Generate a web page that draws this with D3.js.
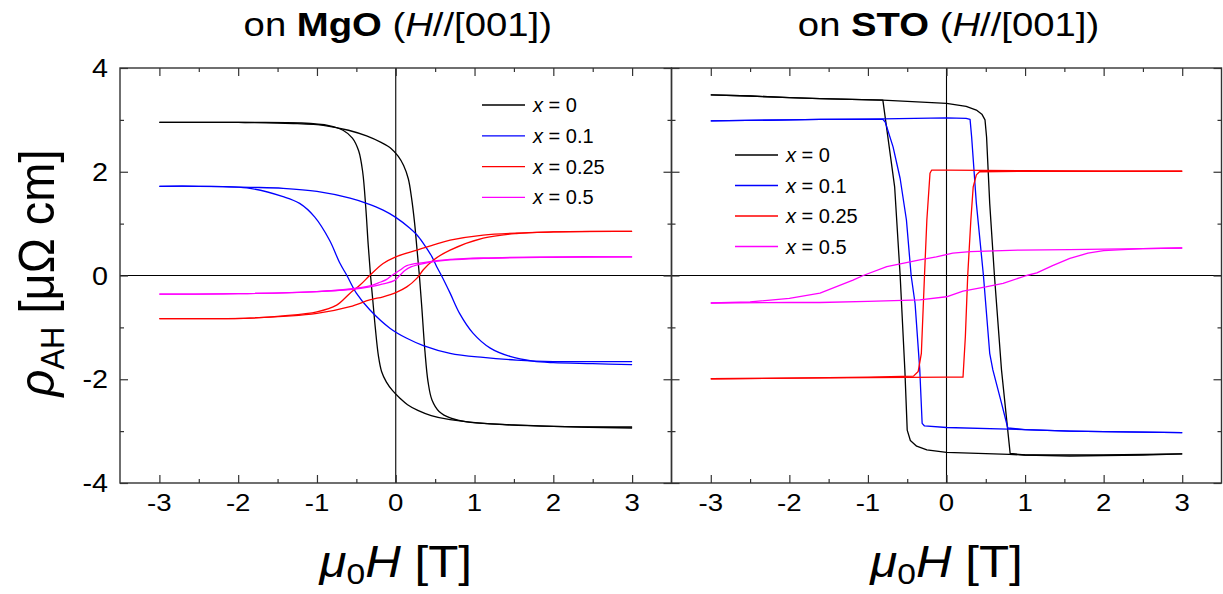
<!DOCTYPE html>
<html><head><meta charset="utf-8">
<script src="https://cdn.jsdelivr.net/npm/d3@7"></script>
<style>
body{margin:0;background:#fff}
svg{display:block}
text{font-family:Arial,"Liberation Sans",sans-serif;fill:#000}
</style>
</head><body>
<svg id="c" width="1223" height="594"></svg>
<script>
// ---------- data ----------
const xTickValues = [-3, -2, -1, 0, 1, 2, 3];
const xMinorValues = [-2.5, -1.5, -0.5, 0.5, 1.5, 2.5];
const yTickValues = [-4, -2, 0, 2, 4];
const yMinorValues = [-3, -1, 1, 3];
const seriesLabels = ["0", "0.1", "0.25", "0.5"];
const seriesColors = ["#000000", "#0000ff", "#ff0000", "#ff00ff"];
const panelTitles = ["MgO", "STO"];

// Each loop: ascending branch (-3 -> 3) followed by descending branch (3 -> -3)
const mgoX0 = [[-3,2.95],[-2,2.95],[-1.3,2.93],[-0.9,2.89],[-0.6,2.80],[-0.37,2.69],[-0.18,2.56],[-0.06,2.45],[0.03,2.30],[0.10,2.12],[0.16,1.86],[0.20,1.5],[0.24,1.0],[0.27,0.5],[0.30,0],[0.33,-0.6],[0.37,-1.45],[0.41,-2.05],[0.46,-2.40],[0.55,-2.62],[0.70,-2.75],[0.95,-2.83],[1.5,-2.88],[2,-2.91],[3,-2.94],
  [3,-2.92],[2,-2.91],[1.2,-2.86],[0.69,-2.78],[0.45,-2.70],[0.28,-2.60],[0.15,-2.49],[0.05,-2.36],[-0.04,-2.22],[-0.12,-2.05],[-0.18,-1.85],[-0.22,-1.55],[-0.26,-1.0],[-0.29,-0.5],[-0.32,0],[-0.35,0.6],[-0.38,1.3],[-0.42,2.0],[-0.47,2.40],[-0.55,2.65],[-0.67,2.80],[-0.85,2.89],[-1.2,2.94],[-2,2.95],[-3,2.95]];
const mgoX01 = [[-3,1.72],[-2.5,1.72],[-1.85,1.70],[-1.43,1.68],[-1.0,1.62],[-0.58,1.49],[-0.37,1.39],[-0.16,1.26],[0,1.12],[0.18,0.91],[0.27,0.78],[0.35,0.62],[0.46,0.36],[0.52,0.17],[0.58,0],[0.69,-0.34],[0.81,-0.73],[0.98,-1.11],[1.20,-1.40],[1.45,-1.56],[1.74,-1.65],[2.0,-1.68],[2.5,-1.70],[3,-1.72],
  [3,-1.66],[2.5,-1.66],[2.0,-1.66],[1.53,-1.63],[1.11,-1.58],[0.69,-1.50],[0.35,-1.35],[0.14,-1.21],[-0.07,-1.02],[-0.33,-0.66],[-0.50,-0.34],[-0.62,0],[-0.71,0.24],[-0.84,0.68],[-1.03,1.13],[-1.22,1.39],[-1.43,1.52],[-1.85,1.68],[-2.5,1.72],[-3,1.72]];
const mgoX025 = [[-3,-0.83],[-2.5,-0.83],[-1.85,-0.82],[-1.0,-0.73],[-0.58,-0.60],[-0.33,-0.47],[-0.16,-0.41],[0,-0.33],[0.14,-0.22],[0.27,-0.05],[0.35,0.11],[0.48,0.30],[0.69,0.49],[1.11,0.72],[1.53,0.81],[2,0.84],[2.5,0.85],[3,0.85],
  [3,0.85],[2,0.84],[1.11,0.78],[0.69,0.68],[0.48,0.59],[0.27,0.49],[0,0.36],[-0.16,0.23],[-0.33,0],[-0.45,-0.18],[-0.58,-0.34],[-0.75,-0.57],[-1.0,-0.70],[-1.43,-0.78],[-1.85,-0.82],[-3,-0.83]];
const mgoX05 = [[-3,-0.36],[-2,-0.35],[-1,-0.31],[-0.58,-0.27],[-0.33,-0.22],[-0.16,-0.16],[-0.02,-0.10],[0.05,0],[0.12,0.10],[0.2,0.17],[0.35,0.23],[0.69,0.30],[1.11,0.33],[2,0.35],[3,0.36],
  [3,0.36],[2,0.36],[1.11,0.34],[0.69,0.31],[0.35,0.25],[0.14,0.19],[0.05,0.10],[-0.05,0],[-0.12,-0.08],[-0.2,-0.13],[-0.33,-0.2],[-0.58,-0.26],[-1,-0.31],[-2,-0.35],[-3,-0.36]];

const stoX0 = [[-3,3.48],[-2.5,3.46],[-2,3.43],[-1.61,3.41],[-0.81,3.38],[0,3.32],[0.25,3.26],[0.38,3.19],[0.45,3.11],[0.49,3.0],[0.51,2.67],[0.55,1.39],[0.61,0],[0.70,-1.82],[0.81,-3.43],[1.0,-3.46],[1.57,-3.48],[2,-3.47],[2.5,-3.46],[3,-3.44],
  [3,-3.44],[2,-3.46],[1,-3.46],[0.8,-3.45],[0.4,-3.43],[0,-3.41],[-0.25,-3.36],[-0.38,-3.29],[-0.46,-3.18],[-0.50,-2.98],[-0.53,-1.82],[-0.59,0],[-0.66,1.71],[-0.81,3.38],[-1.61,3.41],[-2,3.43],[-2.5,3.46],[-3,3.48]];
const stoX01 = [[-3,2.98],[-2,3.0],[-1.61,3.01],[-0.81,3.02],[0,3.04],[0.25,3.03],[0.30,3.01],[0.32,2.67],[0.38,1.39],[0.47,0],[0.55,-1.50],[0.59,-1.82],[0.70,-2.46],[0.78,-2.94],[1.0,-2.97],[1.57,-3.0],[2,-3.01],[3,-3.03],
  [3,-3.03],[2,-3.01],[1.57,-3.0],[0.78,-2.96],[0,-2.93],[-0.28,-2.90],[-0.31,-2.85],[-0.34,-1.82],[-0.40,-0.54],[-0.45,0],[-0.51,1.07],[-0.59,1.87],[-0.68,2.48],[-0.78,2.96],[-0.81,3.01],[-1.61,3.01],[-2,3.0],[-3,2.98]];
const stoX025 = [[-3,-1.99],[-2,-1.98],[-1,-1.97],[0,-1.96],[0.21,-1.96],[0.24,-1.18],[0.27,0],[0.31,1.07],[0.34,1.71],[0.38,1.94],[0.42,2.0],[1,2.01],[2,2.01],[3,2.01],
  [3,2.01],[2,2.01],[1,2.02],[0,2.03],[-0.19,2.03],[-0.21,1.97],[-0.25,1.07],[-0.28,0],[-0.32,-1.50],[-0.36,-1.85],[-0.42,-1.94],[-1,-1.96],[-2,-1.98],[-3,-1.99]];
const stoX05 = [[-3,-0.53],[-2,-0.52],[-1.61,-0.52],[-1,-0.50],[-0.34,-0.47],[0,-0.41],[0.21,-0.30],[0.5,-0.22],[0.72,-0.15],[1.02,0],[1.15,0.05],[1.35,0.19],[1.57,0.33],[1.8,0.43],[2.0,0.48],[2.5,0.52],[3,0.53],
  [3,0.53],[2.5,0.52],[2,0.51],[1.57,0.50],[0.93,0.49],[0.30,0.46],[0.08,0.43],[-0.13,0.36],[-0.34,0.30],[-0.76,0.17],[-1.06,0],[-1.19,-0.09],[-1.61,-0.34],[-2,-0.44],[-2.5,-0.51],[-3,-0.53]];

// ---------- layout ----------
const svg = d3.select("#c");
const plotTop = 68, plotBottom = 483;
const panels = [
  {x0: 120, x1: 671.5, data: [mgoX0, mgoX01, mgoX025, mgoX05], title: panelTitles[0],
   curve: d3.curveCatmullRom.alpha(0.5), legend: {lx: 482, tx: 533, y: 105, dy: 30.8}, yLabels: true},
  {x0: 671.5, x1: 1221.5, data: [stoX0, stoX01, stoX025, stoX05], title: panelTitles[1],
   curve: d3.curveLinear, legend: {lx: 735, tx: 786, y: 155, dy: 30.5}, yLabels: false}
];

function stretchedText(g, x, yy, anchor, size, sx) {
  return g.append("text")
    .attr("transform", `translate(${x},${yy}) scale(${sx},1)`)
    .attr("text-anchor", anchor)
    .attr("font-size", size);
}

const y = d3.scaleLinear().domain([-4, 4]).range([plotBottom, plotTop]);

panels.forEach(p => {
  const x = d3.scaleLinear().domain([-3.5, 3.5]).range([p.x0, p.x1]);
  const g = svg.append("g");

  // zero lines
  g.append("line").attr("x1", x(0)).attr("x2", x(0)).attr("y1", plotTop).attr("y2", plotBottom)
    .attr("stroke", "#000").attr("stroke-width", 1.1);
  g.append("line").attr("x1", p.x0).attr("x2", p.x1).attr("y1", y(0)).attr("y2", y(0))
    .attr("stroke", "#000").attr("stroke-width", 1.1);

  // axes with inward ticks on all four sides
  const mk = (axisFn, scale, vals, len) => axisFn(scale).tickValues(vals).tickSize(len).tickFormat("");
  const axes = [
    [d3.axisTop, x, `translate(0,${plotBottom})`],
    [d3.axisBottom, x, `translate(0,${plotTop})`],
    [d3.axisRight, y, `translate(${p.x0},0)`],
    [d3.axisLeft, y, `translate(${p.x1},0)`]
  ];
  axes.forEach(([fn, sc, tr], i) => {
    const majors = i < 2 ? xTickValues : yTickValues;
    const minors = i < 2 ? xMinorValues : yMinorValues;
    const a1 = g.append("g").attr("transform", tr).call(mk(fn, sc, majors, 8));
    const a2 = g.append("g").attr("transform", tr).call(mk(fn, sc, minors, 4));
    [a1, a2].forEach(a => {
      a.select(".domain").remove();
      a.selectAll(".tick line").attr("stroke", "#333").attr("stroke-width", 1.2);
    });
  });
  g.append("rect").attr("x", p.x0).attr("y", plotTop).attr("width", p.x1 - p.x0).attr("height", plotBottom - plotTop)
    .attr("fill", "none").attr("stroke", "#333").attr("stroke-width", 1.4);

  // tick labels
  xTickValues.forEach(v => {
    stretchedText(g, x(v), 511, "middle", 24, 1.15).text(v);
  });
  if (p.yLabels) {
    yTickValues.forEach(v => {
      stretchedText(g, 108, y(v) + 9, "end", 25, 1.15).text(v);
    });
  }

  // curves: each loop drawn as its two field-sweep branches
  const line = d3.line().x(d => x(d[0])).y(d => y(d[1])).curve(p.curve);
  p.data.forEach((d, i) => {
    const k = d.findIndex(pt => pt[0] === 3);
    [d.slice(0, k + 1), d.slice(k + 1)].forEach(branch => {
      g.append("path").datum(branch).attr("d", line).attr("fill", "none")
        .attr("stroke", seriesColors[i]).attr("stroke-width", 1.3).attr("stroke-linejoin", "round");
    });
  });

  // legend
  seriesLabels.forEach((lab, i) => {
    const yy = p.legend.y + i * p.legend.dy;
    g.append("line").attr("x1", p.legend.lx).attr("x2", p.legend.lx + 43).attr("y1", yy).attr("y2", yy)
      .attr("stroke", seriesColors[i]).attr("stroke-width", 1.3);
    const t = g.append("text").attr("x", p.legend.tx).attr("y", yy + 7).attr("font-size", 20);
    t.append("tspan").attr("font-style", "italic").text("x");
    t.append("tspan").text(" = " + lab);
  });

  // title
  const tt = stretchedText(g, x(0) + 2, 36, "middle", 33, 1.16);
  tt.append("tspan").text("on ");
  tt.append("tspan").attr("font-weight", "bold").text(p.title);
  tt.append("tspan").text(" (");
  tt.append("tspan").attr("font-style", "italic").text("H");
  tt.append("tspan").text("//[001])");

  // x axis title
  const xt = stretchedText(g, x(0), 577, "middle", 44, 1.12);
  xt.append("tspan").attr("font-style", "italic").text("μ");
  xt.append("tspan").attr("font-size", 30).attr("dy", 7).text("0");
  xt.append("tspan").attr("font-style", "italic").attr("dy", -7).text("H");
  xt.append("tspan").text(" [T]");
});

// y axis title
const yt = svg.append("text")
  .attr("transform", `translate(54,273) scale(1.08,1) rotate(-90)`)
  .attr("text-anchor", "middle").attr("font-size", 47);
yt.append("tspan").attr("font-style", "italic").text("ρ");
yt.append("tspan").attr("font-size", 31).attr("dy", 9).text("AH");
yt.append("tspan").attr("dy", -9).text(" [μΩ cm]");
</script>
</body></html>
